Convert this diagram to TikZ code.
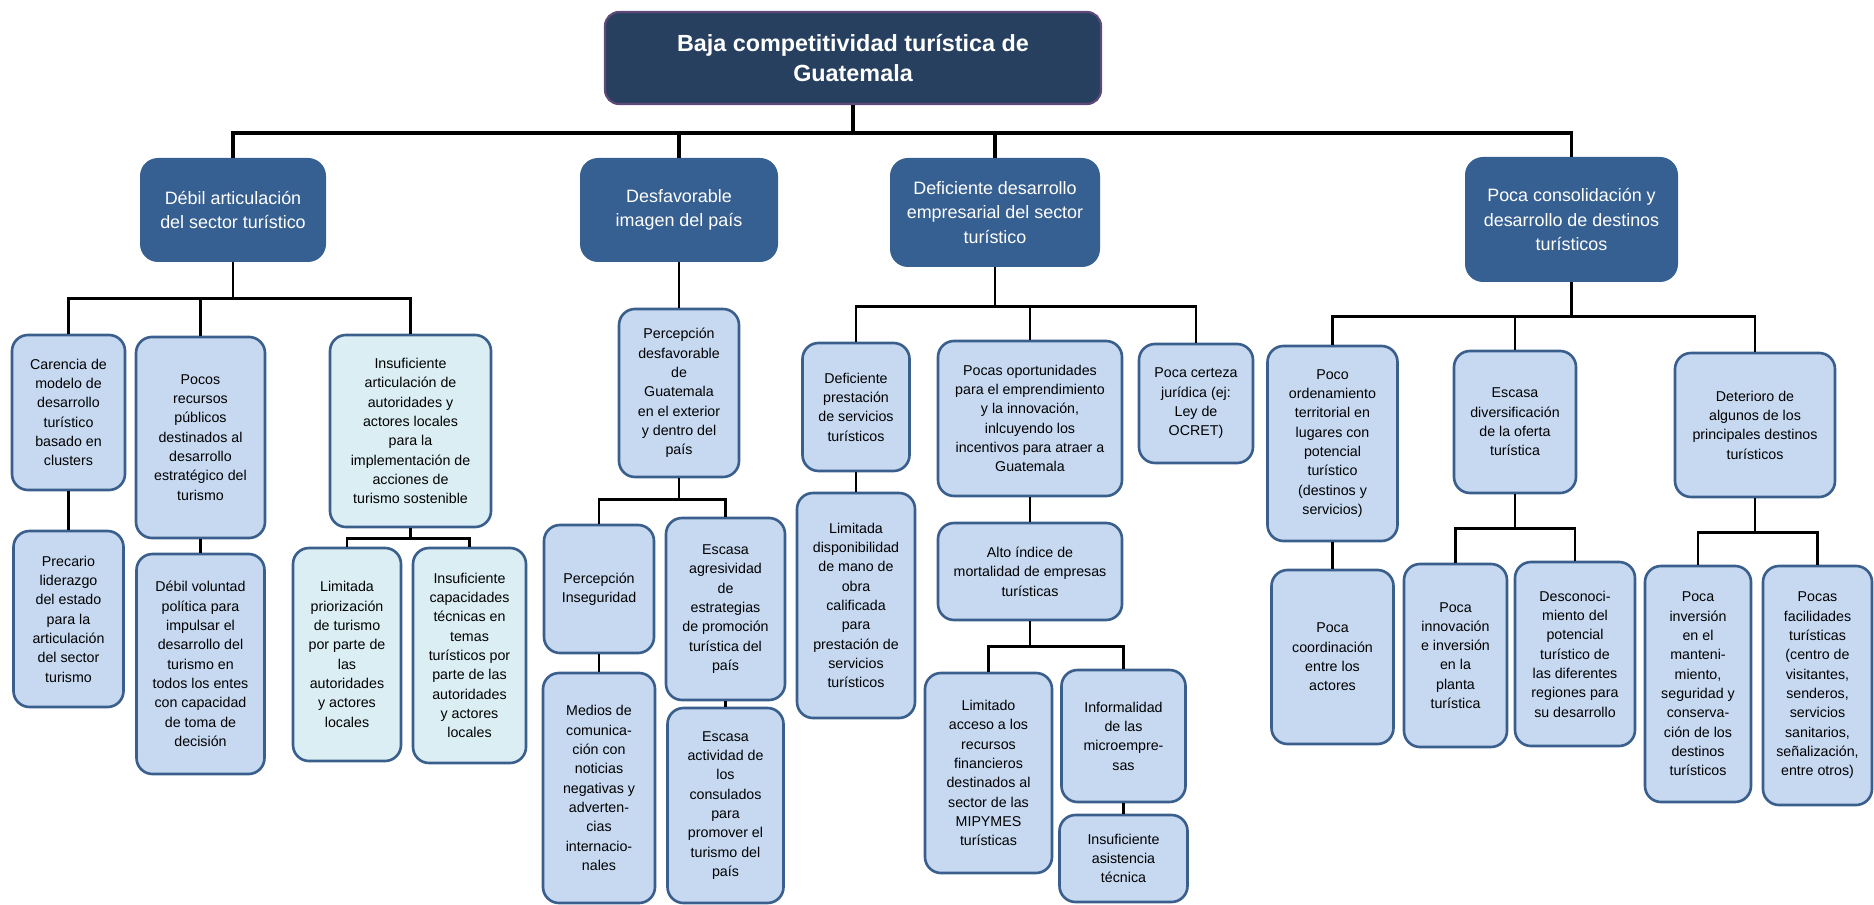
\documentclass[tikz,border=0pt]{standalone}
\usepackage{fontspec}
\setmainfont{Liberation Sans}
\definecolor{raiz}{HTML}{27405F}
\definecolor{raizborde}{HTML}{5F497A}
\definecolor{efecto}{HTML}{376092}
\definecolor{causa}{HTML}{C6D9F1}
\definecolor{causaclara}{HTML}{DBEEF4}
\definecolor{borde}{HTML}{3A5F8C}
\tikzset{
  problema/.style={draw=raizborde,fill=raiz,line width=1.2pt,rounded corners=2.8mm,text=white,
    align=center,inner sep=0pt,font=\bfseries\fontsize{13.3}{17}\selectfont},
  efecto/.style={fill=efecto,rounded corners=3.6mm,text=white,align=center,inner sep=0pt,
    font=\fontsize{10.2}{13.9}\selectfont},
  causa/.style={draw=borde,fill=causa,line width=1.5pt,rounded corners=3.2mm,align=center,
    inner sep=0pt,font=\fontsize{8.1}{11}\selectfont},
  causaclara/.style={causa,fill=causaclara},
  rama/.style={line width=1.6pt},
  tronco/.style={line width=1.9pt}
}
\begin{document}
\begin{tikzpicture}[x=0.2mm,y=-0.2mm]
  \useasboundingbox (0,0) rectangle (1874,905);

  \node[problema,minimum width=99.2mm,minimum height=18.4mm] (root) at (853,58) {Baja competitividad turística de\\Guatemala};

  \node[efecto,minimum width=37.2mm,minimum height=20.8mm] (debil)  at (233,210)   {Débil articulación\\del sector turístico};
  \node[efecto,minimum width=39.6mm,minimum height=20.8mm] (desfav) at (679,210)   {Desfavorable\\imagen del país};
  \node[efecto,minimum width=42mm,minimum height=21.8mm]   (defic)  at (995,212.5) {Deficiente desarrollo\\empresarial del sector\\turístico};
  \node[efecto,minimum width=42.6mm,minimum height=25mm]   (consol) at (1571.5,219.5) {Poca consolidación y\\desarrollo de destinos\\turísticos};

  \node[causa,minimum width=22.6mm,minimum height=31mm]      (carencia)  at (68.5,412.5) {Carencia de\\modelo de\\desarrollo\\turístico\\basado en\\clusters};
  \node[causa,minimum width=25.8mm,minimum height=40.2mm]    (pocos)     at (200.5,437.5) {Pocos\\recursos\\públicos\\destinados al\\desarrollo\\estratégico del\\turismo};
  \node[causaclara,minimum width=32.2mm,minimum height=38.4mm] (insufart) at (410.5,431) {Insuficiente\\articulación de\\autoridades y\\actores locales\\para la\\implementación de\\acciones de\\turismo sostenible};
  \node[causa,minimum width=22mm,minimum height=35.2mm]      (precario)  at (68.5,619) {Precario\\liderazgo\\del estado\\para la\\articulación\\del sector\\turismo};
  \node[causa,minimum width=25.6mm,minimum height=44mm]      (debilvol)  at (200.5,664) {Débil voluntad\\política para\\impulsar el\\desarrollo del\\turismo en\\todos los entes\\con capacidad\\de toma de\\decisión};
  \node[causaclara,minimum width=21.6mm,minimum height=42.6mm] (limprio) at (347,654.5) {Limitada\\priorización\\de turismo\\por parte de\\las\\autoridades\\y actores\\locales};
  \node[causaclara,minimum width=22.6mm,minimum height=43mm]   (insufcap) at (469.5,655.5) {Insuficiente\\capacidades\\técnicas en\\temas\\turísticos por\\parte de las\\autoridades\\y actores\\locales};

  \node[causa,minimum width=24mm,minimum height=33.6mm]   (percdesf)  at (679,393)   {Percepción\\desfavorable\\de\\Guatemala\\en el exterior\\y dentro del\\país};
  \node[causa,minimum width=22mm,minimum height=25.6mm]   (percinseg) at (599,589)   {Percepción\\Inseguridad};
  \node[causa,minimum width=22.4mm,minimum height=46mm]   (medios)    at (599,788)   {Medios de\\comunica-\\ción con\\noticias\\negativas y\\adverten-\\cias\\internacio-\\nales};
  \node[causa,minimum width=23.8mm,minimum height=36.4mm] (agresiv)   at (725.5,609) {Escasa\\agresividad\\de\\estrategias\\de promoción\\turística del\\país};
  \node[causa,minimum width=23.2mm,minimum height=39mm]   (consul)    at (725.5,805.5) {Escasa\\actividad de\\los\\consulados\\para\\promover el\\turismo del\\país};

  \node[causa,minimum width=21.4mm,minimum height=25.6mm] (defprest)  at (856,407)    {Deficiente\\prestación\\de servicios\\turísticos};
  \node[causa,minimum width=23.6mm,minimum height=45mm]   (limdisp)   at (856,605.5)  {Limitada\\disponibilidad\\de mano de\\obra\\calificada\\para\\prestación de\\servicios\\turísticos};
  \node[causa,minimum width=36.8mm,minimum height=31mm]   (pocasop)   at (1030,418.5) {Pocas oportunidades\\para el emprendimiento\\y la innovación,\\inlcuyendo los\\incentivos para atraer a\\Guatemala};
  \node[causa,minimum width=36.8mm,minimum height=19.4mm] (alto)      at (1030,571.5) {Alto índice de\\mortalidad de empresas\\turísticas};
  \node[causa,minimum width=25.4mm,minimum height=40mm]   (limacc)    at (988.5,773)  {Limitado\\acceso a los\\recursos\\financieros\\destinados al\\sector de las\\MIPYMES\\turísticas};
  \node[causa,minimum width=24.8mm,minimum height=26.4mm] (informal)  at (1123.5,736) {Informalidad\\de las\\microempre-\\sas};
  \node[causa,minimum width=25.6mm,minimum height=17.4mm] (insufasis) at (1123.5,858.5) {Insuficiente\\asistencia\\técnica};
  \node[causa,minimum width=22.8mm,minimum height=23.8mm] (certeza)   at (1196,403.5) {Poca certeza\\jurídica (ej:\\Ley de\\OCRET)};

  \node[causa,minimum width=26mm,minimum height=39mm]     (ordenam)   at (1332.5,443.5) {Poco\\ordenamiento\\territorial en\\lugares con\\potencial\\turístico\\(destinos y\\servicios)};
  \node[causa,minimum width=24.4mm,minimum height=34.8mm] (coord)     at (1332.5,657)   {Poca\\coordinación\\entre los\\actores};
  \node[causa,minimum width=24.4mm,minimum height=28.4mm] (diversif)  at (1515,422)     {Escasa\\diversificación\\de la oferta\\turística};
  \node[causa,minimum width=20.6mm,minimum height=36.6mm] (innov)     at (1455.5,655.5) {Poca\\innovación\\e inversión\\en la\\planta\\turística};
  \node[causa,minimum width=24mm,minimum height=36.8mm]   (descon)    at (1575,654)     {Desconoci-\\miento del\\potencial\\turístico de\\las diferentes\\regiones para\\su desarrollo};
  \node[causa,minimum width=32mm,minimum height=28.8mm]   (deterioro) at (1755,425)     {Deterioro de\\algunos de los\\principales destinos\\turísticos};
  \node[causa,minimum width=21.2mm,minimum height=47.2mm] (inversion) at (1698,684)     {Poca\\inversión\\en el\\manteni-\\miento,\\seguridad y\\conserva-\\ción de los\\destinos\\turísticos};
  \node[causa,minimum width=21.8mm,minimum height=47.8mm] (facilid)   at (1817.5,685.5) {Pocas\\facilidades\\turísticas\\(centro de\\visitantes,\\senderos,\\servicios\\sanitarios,\\señalización,\\entre otros)};

  \draw[tronco] (root.south) -- ++(0,28) -| (debil.north);
  \draw[tronco] (root.south) -- ++(0,28) -| (desfav.north);
  \draw[tronco] (root.south) -- ++(0,28) -| (defic.north);
  \draw[tronco] (root.south) -- ++(0,28) -| (consol.north);

  \draw[rama] (debil.south) -- ++(0,36) -| (carencia.north);
  \draw[rama] (debil.south) -- ++(0,36) -| (pocos.north);
  \draw[rama] (debil.south) -- ++(0,36) -| (insufart.north);
  \draw[rama] (carencia.south) -- (precario.north);
  \draw[rama] (pocos.south) -- (debilvol.north);
  \draw[rama] (insufart.south) -- ++(0,10) -| (limprio.north);
  \draw[rama] (insufart.south) -- ++(0,10) -| (insufcap.north);

  \draw[rama] (desfav.south) -- (percdesf.north);
  \draw[rama] (percdesf.south) -- ++(0,21) -| (percinseg.north);
  \draw[rama] (percdesf.south) -- ++(0,21) -| (agresiv.north);
  \draw[rama] (percinseg.south) -- (medios.north);
  \draw[rama] (agresiv.south) -- (consul.north);

  \draw[rama] (defic.south) -- ++(0,39) -| (defprest.north);
  \draw[rama] (defic.south) -- ++(0,39) -| (pocasop.north);
  \draw[rama] (defic.south) -- ++(0,39) -| (certeza.north);
  \draw[rama] (defprest.south) -- (limdisp.north);
  \draw[rama] (pocasop.south) -- (alto.north);
  \draw[rama] (alto.south) -- ++(0,25) -| (limacc.north);
  \draw[rama] (alto.south) -- ++(0,25) -| (informal.north);
  \draw[rama] (informal.south) -- (insufasis.north);

  \draw[rama] (consol.south) -- ++(0,34) -| (ordenam.north);
  \draw[rama] (consol.south) -- ++(0,34) -| (diversif.north);
  \draw[rama] (consol.south) -- ++(0,34) -| (deterioro.north);
  \draw[rama] (ordenam.south) -- (coord.north);
  \draw[rama] (diversif.south) -- ++(0,34) -| (innov.north);
  \draw[rama] (diversif.south) -- ++(0,34) -| (descon.north);
  \draw[rama] (deterioro.south) -- ++(0,34) -| (inversion.north);
  \draw[rama] (deterioro.south) -- ++(0,34) -| (facilid.north);
\end{tikzpicture}
\end{document}
